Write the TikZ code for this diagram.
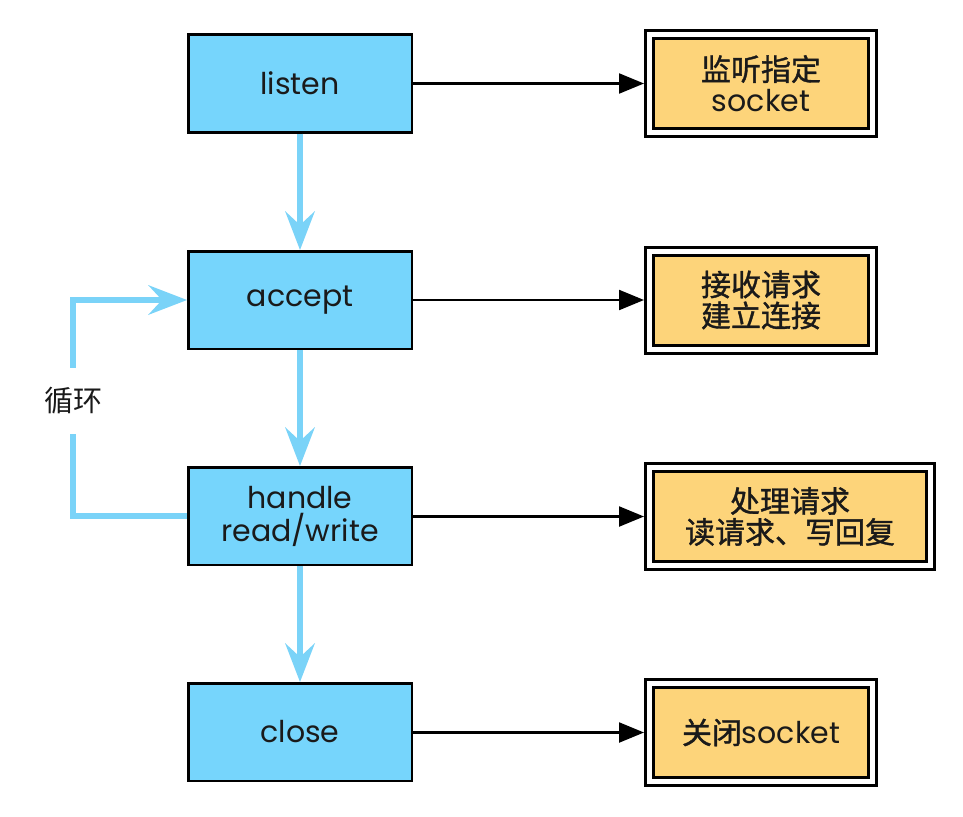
\documentclass[tikz,border=0pt]{standalone}
\usepackage{fontspec}
\setmainfont{Poppins}
\newfontfamily\cjk{Noto Sans CJK SC}
\newfontfamily\cjkm{Noto Sans CJK SC}[FakeBold=1.2]
\usetikzlibrary{arrows.meta,positioning}
\definecolor{boxblue}{HTML}{76D5FC}
\definecolor{lineblue}{HTML}{7AD3F8}
\definecolor{boxorange}{HTML}{FDD47A}
\definecolor{txt}{HTML}{1A1A1A}
\tikzset{
  x=1pt,y=1pt,
  stepbox/.style={draw=black,line width=2.5pt,fill=boxblue,minimum width=223.5pt,minimum height=97.5pt,inner sep=0pt,align=center,font=\fontsize{30}{33}\selectfont,text=txt},
  outerbox/.style={draw=black,line width=3pt,fill=white,minimum width=231pt,minimum height=106pt,inner sep=0pt},
  innerbox/.style={draw=black,line width=3pt,fill=boxorange,minimum width=215pt,minimum height=90pt,inner sep=0pt,align=center,font=\fontsize{30}{31}\selectfont,text=txt},
  cjkbox/.style={innerbox,font=\cjkm\fontsize{30}{31}\selectfont},
  blk/.style={draw=black,line width=2.2pt,-{Triangle[length=25pt,width=20pt]}},
  blu/.style={draw=lineblue,line width=5.5pt},
  bluarr/.style={blu,-{Stealth[length=39pt,width=30pt,inset=14pt,line width=0pt]}},
}
\begin{document}
\begin{tikzpicture}
\useasboundingbox (0,0) rectangle (963,-816);
% left column
\node[stepbox] (listen) at (300,-83.5) {listen};
\node[stepbox] (accept) at (300,-300) {accept};
\node[stepbox] (handle) at (300,-516) {handle\\read/write};
\node[stepbox] (close) at (300,-732) {close};
% right column
\node[outerbox] (o1) at (761,-83.5) {};
\node[innerbox] (i1) at (o1.center) {{\cjkm 监听指定}\\socket};
\node[outerbox] (o2) at (761,-300) {};
\node[cjkbox] (i2) at (o2.center) {接收请求\\建立连接};
\node[outerbox,minimum width=289pt] (o3) at (790,-516.5) {};
\node[cjkbox,minimum width=273pt] (i3) at (o3.center) {处理请求\\读请求、写回复};
\node[outerbox] (o4) at (761,-732.5) {};
\node[innerbox] (i4) at (o4.center) {{\cjkm 关闭}socket};
% loop label
\node[minimum height=66pt,inner sep=0pt,font=\cjk\fontsize{29}{30}\selectfont,text=txt] (lbl) at (73,-401) {循环};
% black arrows
\draw[blk] (listen.east |- o1.west) -- (o1.west);
\draw[blk] (accept.east |- o2.west) -- (o2.west);
\draw[blk] (handle.east |- o3.west) -- (o3.west);
\draw[blk] (close.east |- o4.west) -- (o4.west);
% blue arrows
\draw[bluarr] (listen.south) -- (accept.north);
\draw[bluarr] (accept.south) -- (handle.north);
\draw[bluarr] (handle.south) -- (close.north);
\draw[blu] (handle.west) -| (lbl.south);
\draw[bluarr] (lbl.north) |- (accept.west);
\end{tikzpicture}
\end{document}
